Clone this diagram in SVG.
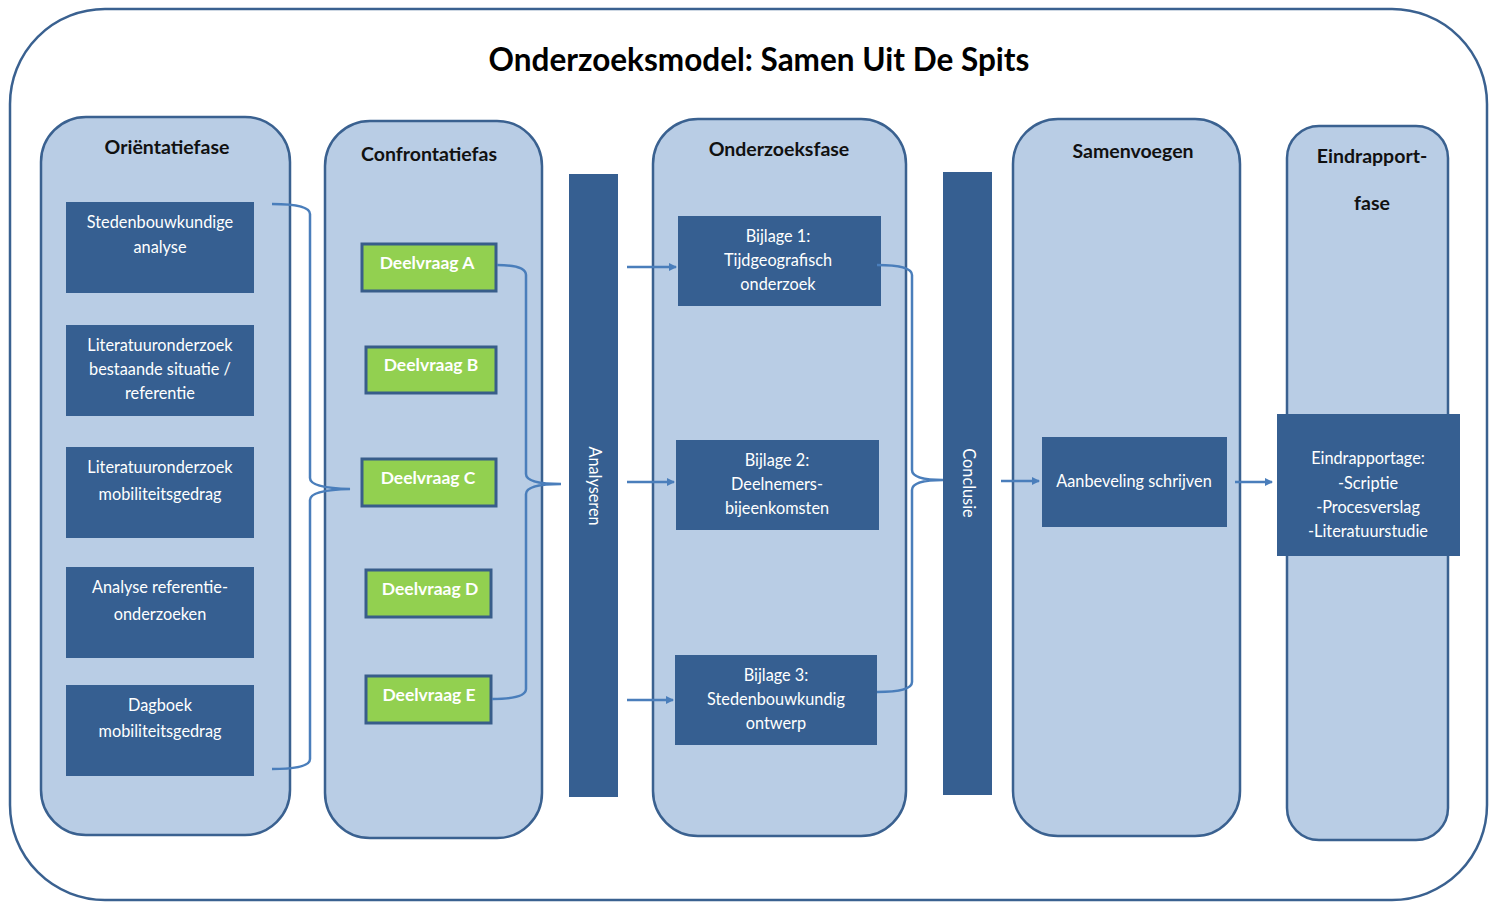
<svg xmlns="http://www.w3.org/2000/svg" width="1496" height="902" viewBox="0 0 1496 902">
<defs>
<style>
.frame{fill:#ffffff;stroke:#3a6190;stroke-width:2.5}
.col{fill:#b9cde5;stroke:#3a6190;stroke-width:2.5}
.dark{fill:#365f91}
.green{fill:#92d050;stroke:#385d8a;stroke-width:3}
.bar{fill:#365f91}
.ttl{font-family:Lato,"Liberation Sans",sans-serif;font-weight:bold;fill:#000000;text-anchor:middle}
.ct{font-family:Lato,"Liberation Sans",sans-serif;font-weight:bold;font-size:19.5px;fill:#111111;text-anchor:middle}
.wt{font-family:Lato,"Liberation Sans",sans-serif;font-size:16.3px;fill:#ffffff;text-anchor:middle}
.gt{font-family:Lato,"Liberation Sans",sans-serif;font-weight:bold;font-size:17.5px;fill:#ffffff;text-anchor:middle}
.con{fill:none;stroke:#4a7ebb;stroke-width:2.5}
</style>
<marker id="ah" markerWidth="8" markerHeight="8" refX="7" refY="4" orient="auto" markerUnits="userSpaceOnUse">
<path d="M0,0 L8,4 L0,8 Z" fill="#4a7ebb"/>
</marker>
</defs>
<rect width="1496" height="902" fill="#ffffff"/>
<rect class="frame" x="10" y="9" width="1477" height="891" rx="95" ry="95"/>
<text class="ttl" x="759" y="71" font-size="31.5">Onderzoeksmodel: Samen Uit De Spits</text>

<g id="col-orientatie">
<rect class="col" x="41" y="117" width="249" height="718" rx="45"/>
<text class="ct" x="167" y="154">Oriëntatiefase</text>
</g>
<g id="col-confrontatie">
<rect class="col" x="325" y="121" width="217" height="717" rx="45"/>
<text class="ct" x="429" y="161">Confrontatiefas</text>
</g>
<g id="col-onderzoek">
<rect class="col" x="653" y="119" width="253" height="717" rx="45"/>
<text class="ct" x="779" y="156">Onderzoeksfase</text>
</g>
<g id="col-samenvoegen">
<rect class="col" x="1013" y="119" width="227" height="717" rx="45"/>
<text class="ct" x="1133" y="158">Samenvoegen</text>
</g>
<g id="col-eindrapport">
<rect class="col" x="1287" y="126" width="161" height="714" rx="32"/>
<text class="ct" x="1372" y="163">Eindrapport-</text>
<text class="ct" x="1372" y="210">fase</text>
</g>

<g id="bar-analyseren">
<rect class="bar" x="569" y="174" width="49" height="623"/>
<text class="wt" transform="translate(594,486) rotate(90)" dy="5.5">Analyseren</text>
</g>
<g id="bar-conclusie">
<rect class="bar" x="943" y="172" width="49" height="623"/>
<text class="wt" transform="translate(968,483) rotate(90)" dy="5.5">Conclusie</text>
</g>

<g id="n-stedenbouw">
<rect class="dark" x="66" y="202" width="188" height="91"/>
<text class="wt" x="160" y="228">Stedenbouwkundige</text>
<text class="wt" x="160" y="253">analyse</text>
</g>
<g id="n-lit-bestaand">
<rect class="dark" x="66" y="325" width="188" height="91"/>
<text class="wt" x="160" y="351">Literatuuronderzoek</text>
<text class="wt" x="160" y="375">bestaande situatie /</text>
<text class="wt" x="160" y="399">referentie</text>
</g>
<g id="n-lit-mobiliteit">
<rect class="dark" x="66" y="447" width="188" height="91"/>
<text class="wt" x="160" y="473">Literatuuronderzoek</text>
<text class="wt" x="160" y="500">mobiliteitsgedrag</text>
</g>
<g id="n-analyse-ref">
<rect class="dark" x="66" y="567" width="188" height="91"/>
<text class="wt" x="160" y="593">Analyse referentie-</text>
<text class="wt" x="160" y="620">onderzoeken</text>
</g>
<g id="n-dagboek">
<rect class="dark" x="66" y="685" width="188" height="91"/>
<text class="wt" x="160" y="711">Dagboek</text>
<text class="wt" x="160" y="737">mobiliteitsgedrag</text>
</g>

<g id="n-dv-a">
<rect class="green" x="362" y="244" width="134" height="47"/>
<text class="gt" x="427" y="269">Deelvraag A</text>
</g>
<g id="n-dv-b">
<rect class="green" x="366" y="347" width="130" height="46"/>
<text class="gt" x="431" y="371">Deelvraag B</text>
</g>
<g id="n-dv-c">
<rect class="green" x="362" y="459" width="134" height="47"/>
<text class="gt" x="428" y="484">Deelvraag C</text>
</g>
<g id="n-dv-d">
<rect class="green" x="366" y="570" width="125" height="47"/>
<text class="gt" x="430" y="595">Deelvraag D</text>
</g>
<g id="n-dv-e">
<rect class="green" x="366" y="676" width="125" height="47"/>
<text class="gt" x="429" y="701">Deelvraag E</text>
</g>

<g id="n-bijlage1">
<rect class="dark" x="678" y="216" width="203" height="90"/>
<text class="wt" x="778" y="242">Bijlage 1:</text>
<text class="wt" x="778" y="266">Tijdgeografisch</text>
<text class="wt" x="778" y="290">onderzoek</text>
</g>
<g id="n-bijlage2">
<rect class="dark" x="676" y="440" width="203" height="90"/>
<text class="wt" x="777" y="466">Bijlage 2:</text>
<text class="wt" x="777" y="490">Deelnemers-</text>
<text class="wt" x="777" y="514">bijeenkomsten</text>
</g>
<g id="n-bijlage3">
<rect class="dark" x="675" y="655" width="202" height="90"/>
<text class="wt" x="776" y="681">Bijlage 3:</text>
<text class="wt" x="776" y="705">Stedenbouwkundig</text>
<text class="wt" x="776" y="729">ontwerp</text>
</g>

<g id="n-aanbeveling">
<rect class="dark" x="1042" y="437" width="185" height="90"/>
<text class="wt" x="1134" y="487">Aanbeveling schrijven</text>
</g>
<g id="n-eindrapportage">
<rect class="dark" x="1277" y="414" width="183" height="142"/>
<text class="wt" x="1368" y="464">Eindrapportage:</text>
<text class="wt" x="1368" y="489">-Scriptie</text>
<text class="wt" x="1368" y="513">-Procesverslag</text>
<text class="wt" x="1368" y="537">-Literatuurstudie</text>
</g>

<g id="connectors">
<path class="con" d="M272,204 Q310,204 310,214 L310,478 Q310,488 350,489 Q310,490 310,500 L310,759 Q310,769 272,769"/>
<path class="con" d="M497,265 Q526,265 526,275 L526,474 Q526,484 561,484 Q526,484 526,494 L526,689 Q526,699 492,699"/>
<path class="con" d="M877,265 Q912,265 912,275 L912,470 Q912,480 943,480 Q912,480 912,490 L912,682 Q912,692 877,692"/>
<line class="con" x1="627" y1="267" x2="676" y2="267" marker-end="url(#ah)"/>
<line class="con" x1="627" y1="482" x2="674" y2="482" marker-end="url(#ah)"/>
<line class="con" x1="627" y1="700" x2="673" y2="700" marker-end="url(#ah)"/>
<line class="con" x1="1001" y1="481" x2="1039" y2="481" marker-end="url(#ah)"/>
<line class="con" x1="1235" y1="482" x2="1272" y2="482" marker-end="url(#ah)"/>
</g>
</svg>
